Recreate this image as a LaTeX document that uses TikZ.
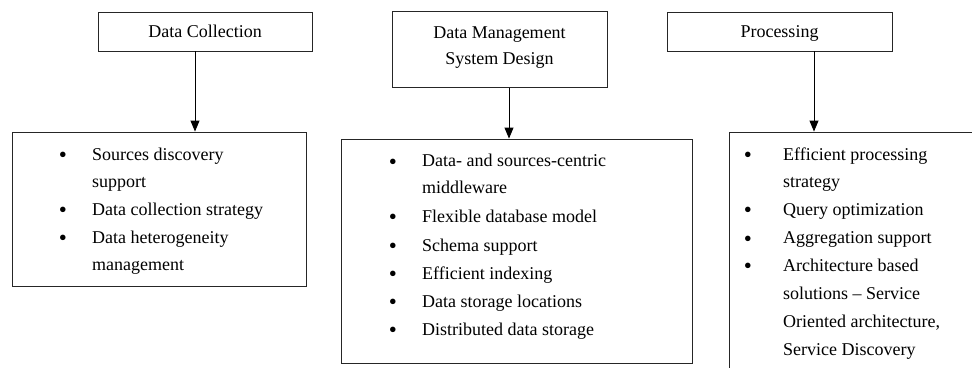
\documentclass[tikz,border=0pt]{standalone}
\usepackage{fontspec}
\setmainfont{Liberation Serif}
\usetikzlibrary{arrows.meta}
\newcommand{\itemlines}[1]{\begin{tabular}[t]{@{}l@{}}#1\end{tabular}}
\begin{document}
\begin{tikzpicture}[x=1bp,y=-1bp,
  box/.style={draw=black!85, line width=0.9bp, inner sep=0pt},
  title/.style={box, align=center, font=\fontsize{18bp}{26bp}\selectfont},
  item/.style={anchor=base west, inner sep=0pt, font=\fontsize{18bp}{27.5bp}\selectfont},
  dot/.style={anchor=base, inner sep=0pt, yshift=-2.5bp, font=\fontsize{23bp}{27bp}\selectfont},
  link/.style={draw=black, line width=0.9bp, -{Triangle[length=11bp,width=9bp]}}]
\useasboundingbox (0,0) rectangle (972,367);
\clip (0,0) rectangle (972,367);
% title boxes
\node[title, text depth=0pt, minimum width=214bp, minimum height=39bp] (dc) at (205,31.5) {Data Collection};
\node[title, text depth=8bp, minimum width=215bp, minimum height=75.5bp] (dm) at (499.5,49.5) {Data Management\\System Design};
\node[title, text depth=0pt, minimum width=225bp, minimum height=39bp] (pr) at (779.5,31.5) {Processing};
% list boxes
\node[box, minimum width=294bp, minimum height=154bp] (lc) at (159,209) {};
\node[box, minimum width=351bp, minimum height=224bp] (mc) at (516.5,251) {};
\node[box, minimum width=262bp, minimum height=250bp] (rc) at (860,257) {};
% connectors
\coordinate (a1) at (195,0);
\coordinate (a2) at (509,0);
\coordinate (a3) at (814,0);
\draw[link] (dc.south -| a1) -- (lc.north -| a1);
\draw[link] (dm.south -| a2) -- (mc.north -| a2);
\draw[link] (pr.south -| a3) -- (rc.north -| a3);
% left list
\node[dot] (lb1) at (63,160) {•};
\node[item] (li1) at (92,160) {\itemlines{Sources discovery\\support}};
\node[dot] (lb2) at (63,215) {•};
\node[item] (li2) at (92,215) {Data collection strategy};
\node[dot] (lb3) at (63,243) {•};
\node[item] (li3) at (92,243) {\itemlines{Data heterogeneity\\management}};
% middle list
\node[dot] (mb1) at (393,166.5) {•};
\node[item, font=\fontsize{18bp}{26.5bp}\selectfont] (mi1) at (422,166.5) {\itemlines{Data- and sources-centric\\middleware}};
\node[dot] (mb2) at (393,222) {•};
\node[item] (mi2) at (422,222) {Flexible database model};
\node[dot] (mb3) at (393,251) {•};
\node[item] (mi3) at (422,251) {Schema support};
\node[dot] (mb4) at (393,279) {•};
\node[item] (mi4) at (422,279) {Efficient indexing};
\node[dot] (mb5) at (393,307) {•};
\node[item] (mi5) at (422,307) {Data storage locations};
\node[dot] (mb6) at (393,335) {•};
\node[item] (mi6) at (422,335) {Distributed data storage};
% right list
\node[dot] (rb1) at (748,160) {•};
\node[item, font=\fontsize{18bp}{27bp}\selectfont] (ri1) at (783,160) {\itemlines{Efficient processing\\strategy}};
\node[dot] (rb2) at (748,215) {•};
\node[item] (ri2) at (783,215) {Query optimization};
\node[dot] (rb3) at (748,243.5) {•};
\node[item] (ri3) at (783,243.5) {Aggregation support};
\node[dot] (rb4) at (748,271) {•};
\node[item, font=\fontsize{18bp}{28bp}\selectfont] (ri4) at (783,271) {\itemlines{Architecture based\\solutions -- Service\\Oriented architecture,\\Service Discovery}};
\end{tikzpicture}
\end{document}
